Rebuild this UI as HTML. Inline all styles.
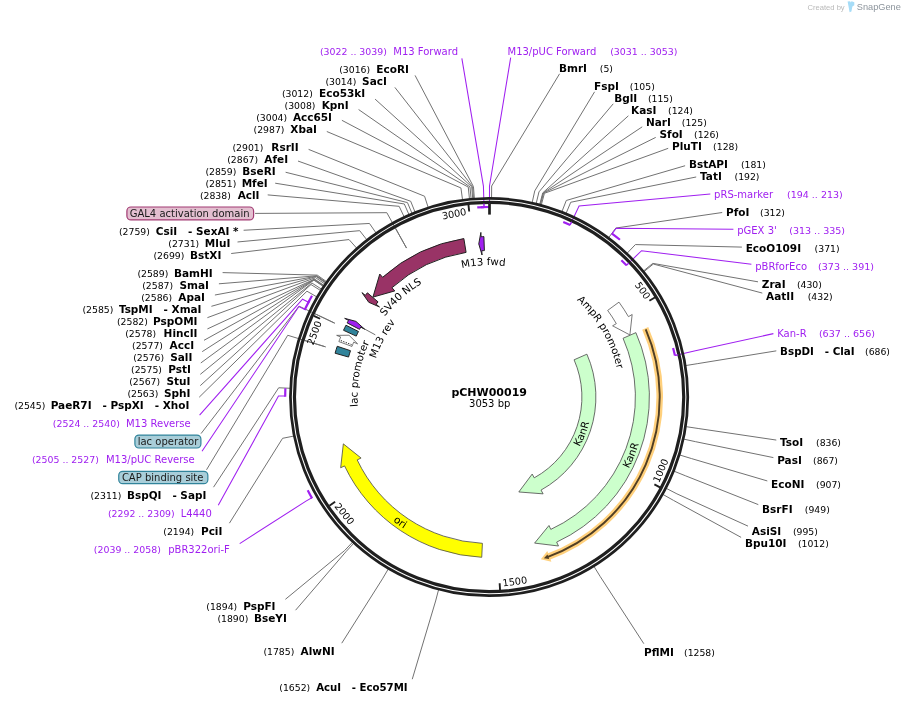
<!DOCTYPE html>
<html lang="en"><head><meta charset="utf-8"><title>pCHW00019 plasmid map</title>
<style>html,body{margin:0;padding:0;background:#fff}svg{display:block;will-change:transform}</style></head>
<body>
<svg width="905" height="704" viewBox="0 0 905 704">
<rect width="905" height="704" fill="#fff"/>
<defs><path id="tp0" d="M536.89,546.15A156.5,156.5 0 0 0 628.16,324.43"/><path id="tp1" d="M521.9,494.77A103,103 0 0 0 580.16,348.12"/><path id="tp2" d="M332.9,409.51A157.1,157.1 0 0 0 529.01,549.05"/><path id="tp3" d="M384.65,316.98A131.9,131.9 0 0 1 586.51,307.64"/><path id="tp4" d="M357.55,400.69A132,132 0 0 1 508.78,266.42"/><path id="tp5" d="M377.85,440.98A120,120 0 0 1 465.58,279.41"/><path id="tp6" d="M388.16,481.58A132,132 0 0 1 423.8,282.51"/><path id="tp7" d="M511.71,268.4A130.5,130.5 0 0 1 612.28,441.21"/></defs>
<g fill="none" stroke="#727272" stroke-width="1">
<polyline points="415.07,75.4 473.45,186.61 474.36,198.58"/>
<polyline points="394.88,87.4 472.58,186.68 473.54,198.64"/>
<polyline points="375.1,99.11 471.72,186.75 472.73,198.71"/>
<polyline points="358.6,109.54 469.99,186.9 471.1,198.85"/>
<polyline points="341.9,120.31 468.26,187.07 469.47,199.01"/>
<polyline points="326.8,131.51 460.93,187.94 462.55,199.83"/>
<polyline points="308.6,149.39 424.57,196.24 428.26,207.66"/>
<polyline points="298,161.04 410.69,201.27 415.17,212.4"/>
<polyline points="285.6,172.24 407.48,202.6 412.14,213.65"/>
<polyline points="275.2,183.2 404.29,203.97 409.13,214.95"/>
<polyline points="267.7,194.9 399.15,206.32 404.29,217.16"/>
<polyline points="243.6,230.26 369.48,223.46 376.31,233.33"/>
<polyline points="237.5,241.97 359.68,230.66 367.07,240.12"/>
<polyline points="231.2,253.52 349.02,239.56 357.01,248.52"/>
<polyline points="222.6,272.6 317.27,275.11 327.06,282.04"/>
<polyline points="218.9,283.8 316.77,275.82 326.59,282.71"/>
<polyline points="214.9,295.03 316.52,276.18 326.36,283.05"/>
<polyline points="211.4,306.3 316.27,276.53 326.12,283.39"/>
<polyline points="207.4,317.66 315.53,277.61 325.42,284.4"/>
<polyline points="207.4,328.95 314.55,279.04 324.5,285.75"/>
<polyline points="204,340.31 314.31,279.4 324.27,286.09"/>
<polyline points="202.2,351.65 314.07,279.76 324.04,286.43"/>
<polyline points="200.8,362.98 313.83,280.12 323.82,286.77"/>
<polyline points="200.3,374.35 311.93,283.03 322.03,289.51"/>
<polyline points="200.3,385.64 310.99,284.5 321.15,290.9"/>
<polyline points="199.22,397.2 306.95,291.19 317.33,297.2"/>
<polyline points="213.52,487.2 278.7,387.78 290.69,388.3"/>
<polyline points="229.41,523.2 282.58,438.31 294.35,435.96"/>
<polyline points="285.4,599.31 344.7,550.47 352.94,541.74"/>
<polyline points="295.6,610.2 345.97,551.66 354.13,542.86"/>
<polyline points="341.75,643.2 382.47,578.84 388.56,568.5"/>
<polyline points="412.25,679.2 435.61,601 438.67,589.4"/>
<polyline points="559.57,73.8 491.67,186.01 491.55,198.01"/>
<polyline points="594.58,91.8 534.74,190.91 532.17,202.63"/>
<polyline points="613.22,103.8 538.97,191.88 536.16,203.55"/>
<polyline points="628.38,115.8 542.76,192.83 539.73,204.44"/>
<polyline points="642.2,126.84 543.18,192.94 540.13,204.55"/>
<polyline points="655.7,137.42 543.6,193.05 540.53,204.65"/>
<polyline points="668.2,148.32 544.44,193.28 541.32,204.86"/>
<polyline points="685.1,165.73 566.29,200.47 561.93,211.65"/>
<polyline points="696.2,176.97 570.72,202.26 566.1,213.33"/>
<polyline points="722.2,212.51 615.86,228.02 608.68,237.63"/>
<polyline points="741.9,247.1 635.4,244.57 627.1,253.24"/>
<polyline points="758,281.84 652.79,263.37 643.5,270.97"/>
<polyline points="762.3,293.09 653.34,264.04 644.02,271.6"/>
<polyline points="776.3,350.85 697.84,363.6 685.99,365.5"/>
<polyline points="776.3,440.07 698.14,428.47 686.27,426.68"/>
<polyline points="773.4,457.6 695.71,441.71 683.98,439.17"/>
<polyline points="767.3,480.95 691.33,458.52 679.85,455.02"/>
<polyline points="758.3,504.62 685.27,475.71 674.14,471.23"/>
<polyline points="748,526.13 676.95,493.86 666.29,488.36"/>
<polyline points="741.1,537.36 673.45,500.36 662.99,494.48"/>
<polyline points="643.82,643.7 600.25,576.6 593.95,566.38"/>
<polyline points="255.1,213.41 386.8,212.68 406.51,248.06"/>
<polyline points="201.02,433.6 299.05,306.16 334.71,323.17"/>
<polyline points="206.5,469.8 287.73,335.28 325.5,346.83"/>
<polyline points="361.71,327.43 375.32,334.84"/>
</g>
<g fill="none" stroke="#a020f0" stroke-width="1.05">
<polyline points="461.85,58.4 483.42,186.09 484.03,207.08"/>
<polyline points="510.68,57.7 489.5,186 489.5,207"/>
<polyline points="710.3,194.05 579.06,205.95 570.15,224.96"/>
<polyline points="733.4,229.23 616.21,228.28 612.19,233.64"/>
<polyline points="751.4,264.27 641.55,250.71 626.42,265.27"/>
<polyline points="773.4,333.63 695.38,350.8 674.89,355.4"/>
<polyline points="199.59,415.2 302.55,299.17 308.48,302.28"/>
<polyline points="202.02,451.2 298.87,306.56 304.92,309.43"/>
<polyline points="218.27,505.2 278.5,396.02 285.2,396.05"/>
<polyline points="239.7,543.65 305.98,501.12 311.81,497.81"/>
</g>
<circle cx="489.1" cy="397.05" r="198.65" fill="none" stroke="#1f1f1f" stroke-width="2.75"/>
<circle cx="489.1" cy="397.05" r="194.65" fill="none" stroke="#1f1f1f" stroke-width="3.2"/>
<g fill="none" stroke="#727272" stroke-width="1">
<path d="M395.47,228.23L406.51,248.06"/>
<path d="M315.12,313.83L334.71,323.17"/>
<path d="M304.75,340.48L325.5,346.83"/>
</g>
<g fill="none" stroke="#a020f0" stroke-width="2.2">
<path d="M477.27,207.39A190,190 0 0 1 484.14,207.08"/>
<path d="M480.78,207.2A190,190 0 0 1 489.62,207"/>
<path d="M563.25,221.9A190,190 0 0 1 570.25,225.01"/>
<path d="M611.68,233.26A204.3,204.3 0 0 1 619.94,239.76"/>
<path d="M621.36,260.2A190,190 0 0 1 626.5,265.35"/>
<path d="M673.09,348.07A190,190 0 0 1 674.92,355.52"/>
<path d="M308.19,302.84A204.3,204.3 0 0 1 312.01,295.82"/>
<path d="M304.65,310A204.3,204.3 0 0 1 309.37,300.61"/>
<path d="M285.2,396.68A204.3,204.3 0 0 1 285.39,388.28"/>
<path d="M312.12,498.36A204.3,204.3 0 0 1 307.71,490.23"/>
</g>
<g fill="none" stroke="#a020f0" stroke-width="1.05">
<path d="M483.93,203.58L484.03,207.08"/>
<path d="M489.5,203.5L489.5,207"/>
<path d="M571.63,221.8L570.15,224.96"/>
<path d="M628.94,262.84L626.42,265.27"/>
<path d="M678.31,354.64L674.89,355.4"/>
</g>
<path d="M466.08,252.38L463.85,238.56A160.5,160.5 0 0 0 382.61,277.27L379.75,274.06L372.94,297.12L394.8,290.92L391.94,287.71A146.5,146.5 0 0 1 466.08,252.38Z" fill="#993366" stroke="#222" stroke-width="1.0"/>
<path d="M378.06,301.9L367.41,292.82A160.5,160.5 0 0 0 365.29,295.35L361.96,292.63L368.73,302.25L379.45,306.94L376.13,304.22A146.5,146.5 0 0 1 378.06,301.9Z" fill="#993366" stroke="#222" stroke-width="1.0"/>
<path d="M484.38,250.59L483.89,236.6A160.5,160.5 0 0 0 481.08,236.72L480.86,232.43L478.77,243.88L482.04,255L481.82,250.7A146.5,146.5 0 0 1 484.38,250.59Z" fill="#a020f0" stroke="#222" stroke-width="1.0"/>
<path d="M607.67,310.41L618.97,302.14A160.5,160.5 0 0 1 628.44,316.65L632.16,314.5L629.89,334.94L612.6,325.82L616.32,323.66A146.5,146.5 0 0 0 607.67,310.41Z" fill="#ffffff" stroke="#555" stroke-width="0.8"/>
<path d="M623.06,338.28L635.88,332.65A159.9,159.9 0 0 1 556.67,542.11L558.47,546.01L534.6,543.1L548.98,525.5L550.79,529.4A145.9,145.9 0 0 0 623.06,338.28Z" fill="#ccffcc" stroke="#484848" stroke-width="0.8"/>
<path d="M574.09,359.81L586.9,354.18A106.4,106.4 0 0 1 541.04,490.08L543.12,493.85L518.82,491.98L532.18,474.07L534.26,477.84A92.4,92.4 0 0 0 574.09,359.81Z" fill="#ccffcc" stroke="#484848" stroke-width="0.8"/>
<path d="M482.42,543.33L481.74,557.31A160.5,160.5 0 0 1 344.55,465.91L340.66,467.76L343.33,443.86L361.08,458.06L357.19,459.9A146.5,146.5 0 0 0 482.42,543.33Z" fill="#ffff00" stroke="#484848" stroke-width="0.8"/>
<path d="M348.56,357.04L335.09,353.22A160.5,160.5 0 0 1 337.23,346.27L350.51,350.7A146.5,146.5 0 0 0 348.56,357.04Z" fill="#31849b" stroke="#222" stroke-width="1.0"/>
<path d="M352,346.43L338.87,341.6A160.5,160.5 0 0 1 340.65,336.97L336.66,335.37L348.98,335.23L357.62,343.82L353.63,342.21A146.5,146.5 0 0 0 352,346.43Z" fill="#ffffff" stroke="#555" stroke-width="0.8"/>
<path d="M356.25,336.12L343.52,330.3A160.5,160.5 0 0 1 345.94,325.23L358.46,331.49A146.5,146.5 0 0 0 356.25,336.12Z" fill="#31849b" stroke="#222" stroke-width="1.0"/>
<path d="M359.56,329.34L347.14,322.88A160.5,160.5 0 0 1 348.46,320.4L344.68,318.35L355.91,321.39L364.54,329.13L360.76,327.08A146.5,146.5 0 0 0 359.56,329.34Z" fill="#a020f0" stroke="#222" stroke-width="1.0"/>
<path d="M340.85,340.58L351.6,344.66" stroke="#222" stroke-width="1" stroke-dasharray="1.3,1.3" fill="none"/>
<path d="M645.24,328.34A170.2,170.2 0 0 1 547.35,557.07" fill="none" stroke="#ffcd75" stroke-width="6.6" opacity="0.95"/>
<path d="M540.88,559.26L551.36,561.77L547.28,550.91Z" fill="#ffcd75" opacity="0.95"/>
<path d="M645.73,329.47A170.2,170.2 0 0 1 547.35,557.07" fill="none" stroke="#503e24" stroke-width="1.9"/>
<path d="M543.87,558.28L549.16,558.96L547.5,554.46Z" fill="#503e24"/>
<g stroke="#1f1f1f" stroke-width="1.9" fill="none">
<path d="M655.29,297.22L649.38,300.78"/>
<path d="M660.48,487.59L654.39,484.36"/>
<path d="M500.05,590.21L499.67,583.32"/>
<path d="M329.4,505.67L335.11,501.79"/>
<path d="M313.83,315.86L320.1,318.75"/>
<path d="M468.44,204.65L469.19,211.51"/>
</g>
<path d="M489.5,203.5L489.5,214.6" stroke="#1f1f1f" stroke-width="2.7"/>
<g font-family="'DejaVu Sans','Verdana','Liberation Sans',sans-serif">
<rect x="126.9" y="207" width="126.7" height="12.9" rx="4" ry="4" fill="#e3bfd0" stroke="#a23b72" stroke-width="1.2"/>
<text x="129.7" y="217.1" font-size="10.0" fill="#1a1a1a">GAL4 activation domain</text>
<rect x="134.9" y="435.1" width="66" height="12.9" rx="4" ry="4" fill="#a9ced9" stroke="#31849b" stroke-width="1.2"/>
<text x="137.7" y="445.1" font-size="10.0" fill="#1a1a1a">lac operator</text>
<rect x="118.75" y="471.3" width="89.1" height="12.4" rx="4" ry="4" fill="#a9ced9" stroke="#31849b" stroke-width="1.2"/>
<text x="121.9" y="480.9" font-size="10.0" fill="#1a1a1a">CAP binding site</text>
<text x="408.9" y="73.4" font-size="10.5" text-anchor="end" font-weight="bold" xml:space="preserve">EcoRI</text>
<text x="370.1" y="73.4" font-size="9.3" text-anchor="end">(3016)</text>
<text x="386.9" y="85.4" font-size="10.5" text-anchor="end" font-weight="bold" xml:space="preserve">SacI</text>
<text x="356.3" y="85.4" font-size="9.3" text-anchor="end">(3014)</text>
<text x="365.2" y="97.4" font-size="10.5" text-anchor="end" font-weight="bold" xml:space="preserve">Eco53kI</text>
<text x="312.8" y="97.4" font-size="9.3" text-anchor="end">(3012)</text>
<text x="348.7" y="109.4" font-size="10.5" text-anchor="end" font-weight="bold" xml:space="preserve">KpnI</text>
<text x="315.5" y="109.4" font-size="9.3" text-anchor="end">(3008)</text>
<text x="332" y="121.4" font-size="10.5" text-anchor="end" font-weight="bold" xml:space="preserve">Acc65I</text>
<text x="287.1" y="121.4" font-size="9.3" text-anchor="end">(3004)</text>
<text x="316.9" y="133.4" font-size="10.5" text-anchor="end" font-weight="bold" xml:space="preserve">XbaI</text>
<text x="284.5" y="133.4" font-size="9.3" text-anchor="end">(2987)</text>
<text x="298.7" y="151.4" font-size="10.5" text-anchor="end" font-weight="bold" xml:space="preserve">RsrII</text>
<text x="263.4" y="151.4" font-size="9.3" text-anchor="end">(2901)</text>
<text x="288.1" y="163.4" font-size="10.5" text-anchor="end" font-weight="bold" xml:space="preserve">AfeI</text>
<text x="258.1" y="163.4" font-size="9.3" text-anchor="end">(2867)</text>
<text x="275.7" y="175.4" font-size="10.5" text-anchor="end" font-weight="bold" xml:space="preserve">BseRI</text>
<text x="236.3" y="175.4" font-size="9.3" text-anchor="end">(2859)</text>
<text x="267.7" y="187.4" font-size="10.5" text-anchor="end" font-weight="bold" xml:space="preserve">MfeI</text>
<text x="236.3" y="187.4" font-size="9.3" text-anchor="end">(2851)</text>
<text x="259.5" y="199.4" font-size="10.5" text-anchor="end" font-weight="bold" xml:space="preserve">AclI</text>
<text x="230.8" y="199.4" font-size="9.3" text-anchor="end">(2838)</text>
<text x="238.5" y="235.4" font-size="10.5" text-anchor="end" font-weight="bold" textLength="82.7" lengthAdjust="spacingAndGlyphs" xml:space="preserve">CsiI   - SexAI *</text>
<text x="149.9" y="235.4" font-size="9.3" text-anchor="end">(2759)</text>
<text x="230.3" y="247.4" font-size="10.5" text-anchor="end" font-weight="bold" xml:space="preserve">MluI</text>
<text x="199.2" y="247.4" font-size="9.3" text-anchor="end">(2731)</text>
<text x="221.3" y="259.4" font-size="10.5" text-anchor="end" font-weight="bold" xml:space="preserve">BstXI</text>
<text x="184.4" y="259.4" font-size="9.3" text-anchor="end">(2699)</text>
<text x="212.7" y="277.4" font-size="10.5" text-anchor="end" font-weight="bold" xml:space="preserve">BamHI</text>
<text x="168.3" y="277.4" font-size="9.3" text-anchor="end">(2589)</text>
<text x="209" y="289.4" font-size="10.5" text-anchor="end" font-weight="bold" xml:space="preserve">SmaI</text>
<text x="173.1" y="289.4" font-size="9.3" text-anchor="end">(2587)</text>
<text x="205" y="301.4" font-size="10.5" text-anchor="end" font-weight="bold" xml:space="preserve">ApaI</text>
<text x="172.1" y="301.4" font-size="9.3" text-anchor="end">(2586)</text>
<text x="201.5" y="313.4" font-size="10.5" text-anchor="end" font-weight="bold" textLength="82.6" lengthAdjust="spacingAndGlyphs" xml:space="preserve">TspMI   - XmaI</text>
<text x="113.4" y="313.4" font-size="9.3" text-anchor="end">(2585)</text>
<text x="197.5" y="325.4" font-size="10.5" text-anchor="end" font-weight="bold" xml:space="preserve">PspOMI</text>
<text x="147.9" y="325.4" font-size="9.3" text-anchor="end">(2582)</text>
<text x="197.5" y="337.4" font-size="10.5" text-anchor="end" font-weight="bold" xml:space="preserve">HincII</text>
<text x="156.1" y="337.4" font-size="9.3" text-anchor="end">(2578)</text>
<text x="194.1" y="349.4" font-size="10.5" text-anchor="end" font-weight="bold" xml:space="preserve">AccI</text>
<text x="163" y="349.4" font-size="9.3" text-anchor="end">(2577)</text>
<text x="192.3" y="361.4" font-size="10.5" text-anchor="end" font-weight="bold" xml:space="preserve">SalI</text>
<text x="164.1" y="361.4" font-size="9.3" text-anchor="end">(2576)</text>
<text x="190.9" y="373.4" font-size="10.5" text-anchor="end" font-weight="bold" xml:space="preserve">PstI</text>
<text x="162" y="373.4" font-size="9.3" text-anchor="end">(2575)</text>
<text x="190.4" y="385.4" font-size="10.5" text-anchor="end" font-weight="bold" xml:space="preserve">StuI</text>
<text x="160.1" y="385.4" font-size="9.3" text-anchor="end">(2567)</text>
<text x="190.4" y="397.4" font-size="10.5" text-anchor="end" font-weight="bold" xml:space="preserve">SphI</text>
<text x="158.3" y="397.4" font-size="9.3" text-anchor="end">(2563)</text>
<text x="189.4" y="409.4" font-size="10.5" text-anchor="end" font-weight="bold" textLength="138.7" lengthAdjust="spacingAndGlyphs" xml:space="preserve">PaeR7I   - PspXI   - XhoI</text>
<text x="45.3" y="409.4" font-size="9.3" text-anchor="end">(2545)</text>
<text x="206.3" y="499.4" font-size="10.5" text-anchor="end" font-weight="bold" textLength="79.2" lengthAdjust="spacingAndGlyphs" xml:space="preserve">BspQI   - SapI</text>
<text x="121.4" y="499.4" font-size="9.3" text-anchor="end">(2311)</text>
<text x="222.4" y="535.4" font-size="10.5" text-anchor="end" font-weight="bold" xml:space="preserve">PciI</text>
<text x="194.2" y="535.4" font-size="9.3" text-anchor="end">(2194)</text>
<text x="275.5" y="610.4" font-size="10.5" text-anchor="end" font-weight="bold" xml:space="preserve">PspFI</text>
<text x="237.2" y="610.4" font-size="9.3" text-anchor="end">(1894)</text>
<text x="286.9" y="622.4" font-size="10.5" text-anchor="end" font-weight="bold" xml:space="preserve">BseYI</text>
<text x="248.3" y="622.4" font-size="9.3" text-anchor="end">(1890)</text>
<text x="334.7" y="655.4" font-size="10.5" text-anchor="end" font-weight="bold" xml:space="preserve">AlwNI</text>
<text x="294.3" y="655.4" font-size="9.3" text-anchor="end">(1785)</text>
<text x="407.6" y="691.4" font-size="10.5" text-anchor="end" font-weight="bold" textLength="91.4" lengthAdjust="spacingAndGlyphs" xml:space="preserve">AcuI   - Eco57MI</text>
<text x="310.2" y="691.4" font-size="9.3" text-anchor="end">(1652)</text>
<text x="559" y="72.3" font-size="10.5" font-weight="bold" xml:space="preserve">BmrI</text>
<text x="599.8" y="72.3" font-size="9.3">(5)</text>
<text x="594" y="90.3" font-size="10.5" font-weight="bold" xml:space="preserve">FspI</text>
<text x="629.8" y="90.3" font-size="9.3">(105)</text>
<text x="614.2" y="102.3" font-size="10.5" font-weight="bold" xml:space="preserve">BglI</text>
<text x="647.9" y="102.3" font-size="9.3">(115)</text>
<text x="631.1" y="114.3" font-size="10.5" font-weight="bold" xml:space="preserve">KasI</text>
<text x="668" y="114.3" font-size="9.3">(124)</text>
<text x="646" y="126.3" font-size="10.5" font-weight="bold" xml:space="preserve">NarI</text>
<text x="681.8" y="126.3" font-size="9.3">(125)</text>
<text x="659.5" y="138.3" font-size="10.5" font-weight="bold" xml:space="preserve">SfoI</text>
<text x="694" y="138.3" font-size="9.3">(126)</text>
<text x="672" y="150.3" font-size="10.5" font-weight="bold" xml:space="preserve">PluTI</text>
<text x="713.1" y="150.3" font-size="9.3">(128)</text>
<text x="688.9" y="168.3" font-size="10.5" font-weight="bold" xml:space="preserve">BstAPI</text>
<text x="740.9" y="168.3" font-size="9.3">(181)</text>
<text x="700" y="180.3" font-size="10.5" font-weight="bold" xml:space="preserve">TatI</text>
<text x="734.5" y="180.3" font-size="9.3">(192)</text>
<text x="726" y="216.3" font-size="10.5" font-weight="bold" xml:space="preserve">PfoI</text>
<text x="760" y="216.3" font-size="9.3">(312)</text>
<text x="745.7" y="252.3" font-size="10.5" font-weight="bold" xml:space="preserve">EcoO109I</text>
<text x="814.6" y="252.3" font-size="9.3">(371)</text>
<text x="761.8" y="288.3" font-size="10.5" font-weight="bold" xml:space="preserve">ZraI</text>
<text x="796.9" y="288.3" font-size="9.3">(430)</text>
<text x="766.1" y="300.3" font-size="10.5" font-weight="bold" xml:space="preserve">AatII</text>
<text x="807.7" y="300.3" font-size="9.3">(432)</text>
<text x="780.1" y="354.5" font-size="10.5" font-weight="bold" textLength="74.5" lengthAdjust="spacingAndGlyphs" xml:space="preserve">BspDI   - ClaI</text>
<text x="865" y="354.5" font-size="9.3">(686)</text>
<text x="780.1" y="446.3" font-size="10.5" font-weight="bold" xml:space="preserve">TsoI</text>
<text x="816" y="446.3" font-size="9.3">(836)</text>
<text x="777.2" y="464.3" font-size="10.5" font-weight="bold" xml:space="preserve">PasI</text>
<text x="813" y="464.3" font-size="9.3">(867)</text>
<text x="771.1" y="488.4" font-size="10.5" font-weight="bold" xml:space="preserve">EcoNI</text>
<text x="816" y="488.4" font-size="9.3">(907)</text>
<text x="762.1" y="512.9" font-size="10.5" font-weight="bold" xml:space="preserve">BsrFI</text>
<text x="804.8" y="512.9" font-size="9.3">(949)</text>
<text x="751.8" y="534.9" font-size="10.5" font-weight="bold" xml:space="preserve">AsiSI</text>
<text x="792.9" y="534.9" font-size="9.3">(995)</text>
<text x="744.9" y="546.9" font-size="10.5" font-weight="bold" xml:space="preserve">Bpu10I</text>
<text x="797.9" y="546.9" font-size="9.3">(1012)</text>
<text x="644" y="655.9" font-size="10.5" font-weight="bold" xml:space="preserve">PflMI</text>
<text x="684" y="655.9" font-size="9.3">(1258)</text>
<text x="458" y="55.4" font-size="10.0" text-anchor="end" fill="#a020f0">M13 Forward</text>
<text x="386.9" y="55.4" font-size="9.3" text-anchor="end" fill="#a020f0" textLength="67" lengthAdjust="spacingAndGlyphs">(3022 .. 3039)</text>
<text x="507.5" y="54.7" font-size="10.0" fill="#a020f0">M13/pUC Forward</text>
<text x="610.2" y="54.7" font-size="9.3" fill="#a020f0" textLength="67.3" lengthAdjust="spacingAndGlyphs">(3031 .. 3053)</text>
<text x="714.1" y="198.3" font-size="10.0" fill="#a020f0">pRS-marker</text>
<text x="787" y="198.3" font-size="9.3" fill="#a020f0" textLength="55.7" lengthAdjust="spacingAndGlyphs">(194 .. 213)</text>
<text x="737.2" y="234.3" font-size="10.0" fill="#a020f0">pGEX 3'</text>
<text x="789.2" y="234.3" font-size="9.3" fill="#a020f0" textLength="55.9" lengthAdjust="spacingAndGlyphs">(313 .. 335)</text>
<text x="755.2" y="270.3" font-size="10.0" fill="#a020f0">pBRforEco</text>
<text x="818.1" y="270.3" font-size="9.3" fill="#a020f0" textLength="55.9" lengthAdjust="spacingAndGlyphs">(373 .. 391)</text>
<text x="777.2" y="336.8" font-size="10.0" fill="#a020f0">Kan-R</text>
<text x="818.9" y="336.8" font-size="9.3" fill="#a020f0" textLength="56.1" lengthAdjust="spacingAndGlyphs">(637 .. 656)</text>
<text x="190.7" y="427.4" font-size="10.0" text-anchor="end" fill="#a020f0">M13 Reverse</text>
<text x="119.9" y="427.4" font-size="9.3" text-anchor="end" fill="#a020f0" textLength="67.1" lengthAdjust="spacingAndGlyphs">(2524 .. 2540)</text>
<text x="194.7" y="463.4" font-size="10.0" text-anchor="end" fill="#a020f0">M13/pUC Reverse</text>
<text x="98.9" y="463.4" font-size="9.3" text-anchor="end" fill="#a020f0" textLength="67" lengthAdjust="spacingAndGlyphs">(2505 .. 2527)</text>
<text x="211.8" y="517.4" font-size="10.0" text-anchor="end" fill="#a020f0">L4440</text>
<text x="174.7" y="517.4" font-size="9.3" text-anchor="end" fill="#a020f0" textLength="66.8" lengthAdjust="spacingAndGlyphs">(2292 .. 2309)</text>
<text x="229.8" y="553.4" font-size="10.0" text-anchor="end" fill="#a020f0">pBR322ori-F</text>
<text x="160.9" y="553.4" font-size="9.3" text-anchor="end" fill="#a020f0" textLength="67.1" lengthAdjust="spacingAndGlyphs">(2039 .. 2058)</text>
<text font-size="10.3" text-anchor="middle"><textPath href="#tp0" startOffset="50%">KanR</textPath></text>
<text font-size="10.3" text-anchor="middle"><textPath href="#tp1" startOffset="50%">KanR</textPath></text>
<text font-size="10.3" text-anchor="middle"><textPath href="#tp2" startOffset="50%">ori</textPath></text>
<text font-size="10.3" text-anchor="middle"><textPath href="#tp3" startOffset="50%">M13 fwd</textPath></text>
<text font-size="10.3" text-anchor="middle"><textPath href="#tp4" startOffset="50%">SV40 NLS</textPath></text>
<text font-size="10.3" text-anchor="middle"><textPath href="#tp5" startOffset="50%">M13 rev</textPath></text>
<text font-size="10.3" text-anchor="middle"><textPath href="#tp6" startOffset="50%">lac promoter</textPath></text>
<text font-size="10.2" text-anchor="middle"><textPath href="#tp7" startOffset="50%">AmpR promoter</textPath></text>
<text transform="translate(639.89,292.56) rotate(55.22)" font-size="9.7" text-anchor="middle">500</text>
<text transform="translate(663.82,471.83) rotate(-66.77)" font-size="9.7" text-anchor="middle">1000</text>
<text transform="translate(515.28,584.94) rotate(-7.81)" font-size="9.7" text-anchor="middle">1500</text>
<text transform="translate(341.77,516) rotate(51.15)" font-size="9.7" text-anchor="middle">2000</text>
<text transform="translate(317.56,334.06) rotate(-69.89)" font-size="9.7" text-anchor="middle">2500</text>
<text transform="translate(454.77,217.22) rotate(-10.93)" font-size="9.7" text-anchor="middle">3000</text>
<text x="489.2" y="395.5" font-size="11" font-weight="bold" text-anchor="middle">pCHW00019</text>
<text x="489.7" y="407.4" font-size="10" text-anchor="middle">3053 bp</text>
</g>
<g font-family="'Liberation Sans',Arial,sans-serif">
<text x="807.5" y="9.9" font-size="7.6" fill="#b9b9b9">Created by</text>
<path d="M847.6,1.6 L850.2,1.2 L850.6,2.6 L851.6,1.3 L854.3,2.2 L854.3,5.2 L852.4,6.6 L851.4,11.6 L849.6,12.3 Z" fill="#a6dcf7"/>
<text x="856.8" y="9.9" font-size="9.6" fill="#8c949c" textLength="44" lengthAdjust="spacingAndGlyphs">SnapGene</text>
</g>
</svg>
</body></html>
